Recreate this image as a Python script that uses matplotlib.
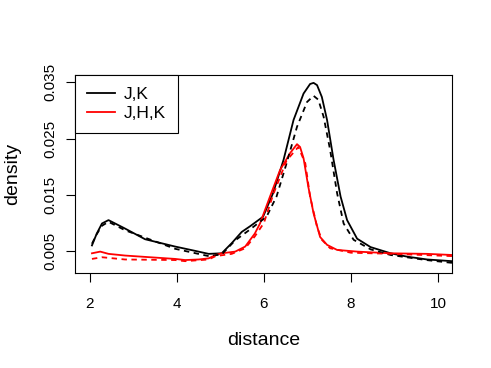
import matplotlib.pyplot as plt

plt.rcParams["font.family"] = ["Liberation Sans", "DejaVu Sans"]

# density curves (distance, density)
jk_x = [2.05, 2.16, 2.28, 2.43, 2.81, 3.27, 3.96, 4.38, 4.73, 5.03, 5.26, 5.49,
        5.68, 5.98, 6.21, 6.45, 6.68, 6.91, 7.06, 7.14, 7.22, 7.33, 7.45, 7.6,
        7.76, 7.91, 8.14, 8.45, 8.91, 9.29, 9.75, 10.32]
jk_y = [0.0060, 0.0081, 0.0099, 0.0105, 0.0090, 0.0071, 0.0058, 0.0051, 0.0045,
        0.0046, 0.0064, 0.0084, 0.0094, 0.0111, 0.0153, 0.0212, 0.0283, 0.0330,
        0.0347, 0.0349, 0.0345, 0.0324, 0.0283, 0.0212, 0.0147, 0.0105, 0.0072,
        0.0057, 0.0046, 0.0040, 0.0035, 0.0032]

jk2_x = [2.05, 2.16, 2.28, 2.43, 2.81, 3.96, 4.73, 5.03, 5.34, 5.64, 6.06, 6.29,
         6.52, 6.76, 6.99, 7.14, 7.25, 7.37, 7.52, 7.68, 7.83, 8.06, 8.45, 8.91,
         9.73, 10.32]
jk2_y = [0.0063, 0.0080, 0.0095, 0.0102, 0.0087, 0.0054, 0.0041, 0.0044, 0.0069,
         0.0086, 0.0111, 0.0147, 0.0206, 0.0271, 0.0315, 0.0326, 0.0319, 0.0289,
         0.0230, 0.0153, 0.0099, 0.0070, 0.0053, 0.0043, 0.0034, 0.0029]

jhk_x = [2.05, 2.24, 2.43, 2.81, 3.96, 4.19, 4.5, 4.73, 4.89, 5.03, 5.34, 5.57,
         5.79, 5.91, 6.14, 6.37, 6.6, 6.76, 6.83, 6.91, 7.02, 7.14, 7.29, 7.45,
         7.68, 8.14, 8.91, 9.75, 10.32]
jhk_y = [0.0046, 0.0049, 0.0045, 0.0042, 0.0036, 0.0034, 0.0035, 0.0037, 0.0043,
         0.0046, 0.0049, 0.0058, 0.0081, 0.0099, 0.0147, 0.0194, 0.0224, 0.0240,
         0.0235, 0.0215, 0.0164, 0.0117, 0.0075, 0.0061, 0.0052, 0.0049, 0.0046,
         0.0045, 0.0043]

jhk2_x = [2.05, 2.28, 2.81, 3.96, 4.19, 4.73, 4.89, 5.26, 5.57, 5.79, 6.0, 6.21,
          6.52, 6.79, 6.95, 7.06, 7.22, 7.33, 7.52, 8.0, 8.97, 10.32]
jhk2_y = [0.0036, 0.0039, 0.0035, 0.0034, 0.0032, 0.0035, 0.0041, 0.0045, 0.0055,
          0.0076, 0.0100, 0.0150, 0.0211, 0.0235, 0.0206, 0.0147, 0.0093, 0.0070,
          0.0055, 0.0047, 0.0045, 0.0041]

xticks = [2, 4, 6, 8, 10]
yticks = [0.005, 0.015, 0.025, 0.035]

fig = plt.figure(figsize=(4.91, 3.68), dpi=100)
ax = fig.add_axes([0.1527, 0.2582, 0.7679, 0.538])

ax.plot(jk_x, jk_y, color="black", lw=1.3, label="J,K")
ax.plot(jhk_x, jhk_y, color="red", lw=1.3, label="J,H,K")
ax.plot(jk2_x, jk2_y, color="black", lw=1.3, ls=(0, (3, 2.5)))
ax.plot(jhk2_x, jhk2_y, color="red", lw=1.3, ls=(0, (3, 2.5)))

ax.set_xlim(1.66, 10.32)
ax.set_ylim(0.0011, 0.0363)
ax.set_xticks(xticks)
ax.set_xticklabels([str(t) for t in xticks])
ax.set_yticks(yticks)
ax.set_yticklabels([f"{t:.3f}" for t in yticks], rotation=90, va="center")
ax.tick_params(length=6.5, width=0.8, labelsize=11)
ax.tick_params(axis="x", pad=11)
ax.tick_params(axis="y", pad=6)

for s in ax.spines.values():
    s.set_linewidth(0.8)

ax.set_xlabel("distance", fontsize=14, labelpad=15)
ax.set_ylabel("density", fontsize=14, labelpad=16)

leg = ax.legend(loc="upper left", bbox_to_anchor=(0, 1), borderaxespad=0,
                fancybox=False, edgecolor="black", framealpha=1, fontsize=12.5,
                handlelength=1.6, handletextpad=0.5, labelspacing=0.2,
                borderpad=0.7)
leg.get_frame().set_linewidth(0.8)

fig.savefig("out.png", dpi=100)
